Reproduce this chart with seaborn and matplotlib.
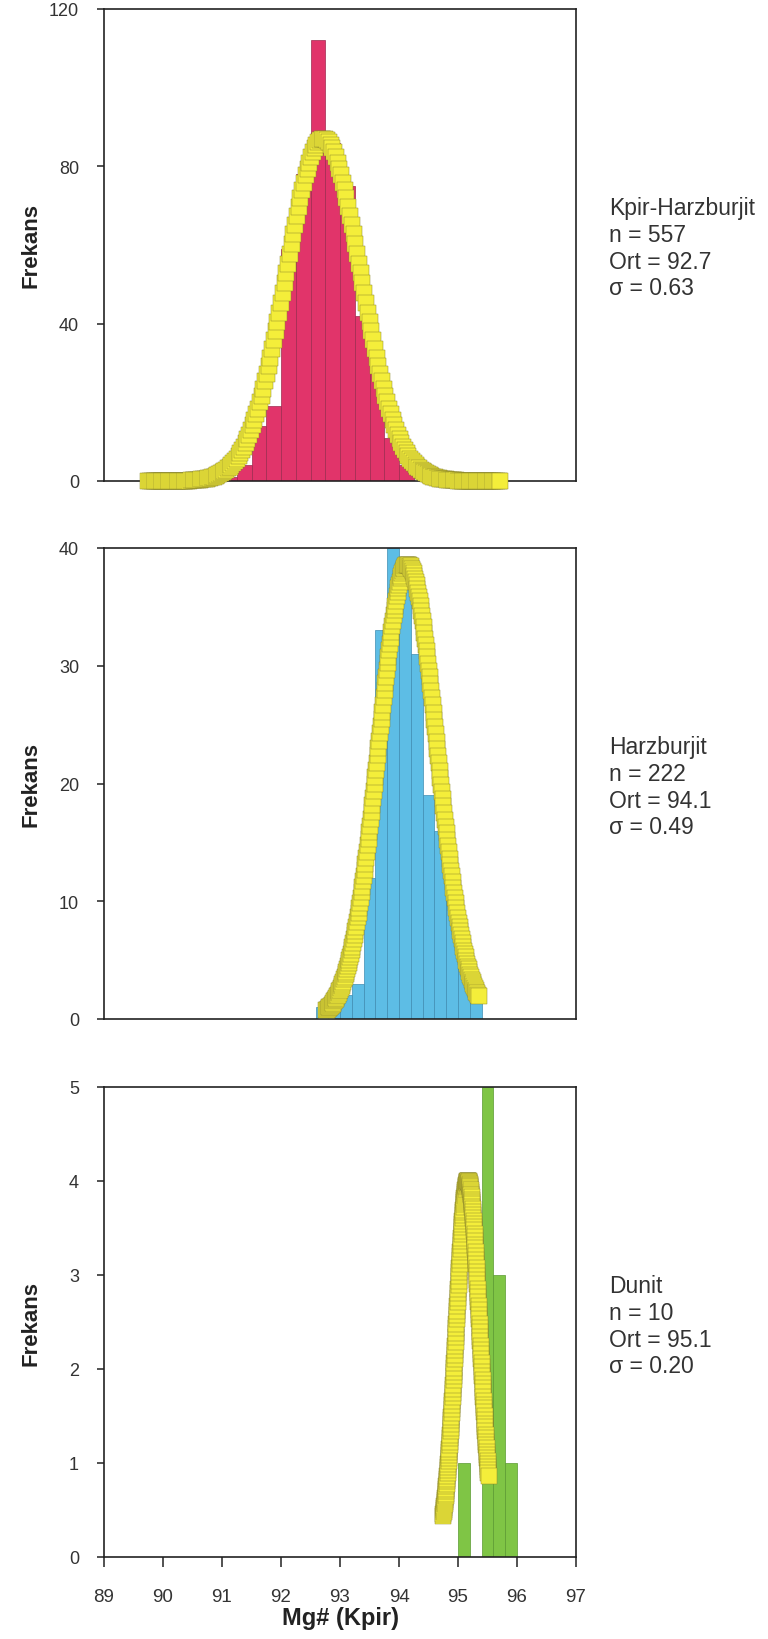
import numpy as np
import pandas as pd
import matplotlib
matplotlib.use("Agg")
import matplotlib.pyplot as plt
import seaborn as sns

sns.set_theme(style="white")
plt.rcParams['font.family'] = ['Liberation Sans', 'DejaVu Sans']

# ---------------- data ----------------
# Panel 1: Kpir-Harzburjit (bin width 0.25)
kh_edges = [90.0, 90.25, 90.5, 90.75, 91.0, 91.25, 91.5, 91.75, 92.0, 92.25,
            92.5, 92.75, 93.0, 93.25, 93.5, 93.75, 94.0, 94.25]
kh_counts = [1, 0, 0, 0, 1, 4, 14, 19, 59, 78, 112, 86, 75, 42, 28, 11, 4]
# Panel 2: Harzburjit (bin width 0.2)
hz_edges = [92.6, 92.8, 93.0, 93.2, 93.4, 93.6, 93.8, 94.0, 94.2, 94.4,
            94.6, 94.8, 95.0, 95.2, 95.4]
hz_counts = [1, 2, 2, 3, 12, 33, 40, 38, 31, 19, 16, 13, 6, 3]
# Panel 3: Dunit (bin width 0.2)
du_edges = [95.0, 95.2, 95.4, 95.6, 95.8, 96.0]
du_counts = [1, 0, 5, 3, 1]

names = ["Kpir-Harzburjit", "Harzburjit", "Dunit"]
n_vals = [557, 222, 10]
ort_vals = ["92.7", "94.1", "95.1"]
sig_vals = ["0.63", "0.49", "0.20"]

# fitted normal curves (centre, sigma, peak height, x-start, x-end)
curve_center = [92.72, 94.15, 95.17]
curve_sigma = [0.63, 0.49, 0.20]
curve_peak = [87.0, 38.6, 4.0]
curve_x0 = [89.75, 92.77, 94.75]
curve_x1 = [95.72, 95.35, 95.52]

y_max = [120, 40, 5]
y_ticks = [[0, 40, 80, 120], [0, 10, 20, 30, 40], [0, 1, 2, 3, 4, 5]]
x_ticks = [89, 90, 91, 92, 93, 94, 95, 96, 97]

bar_colors = ["#e1346a", "#5dbde5", "#7fc545"]
bar_edges = ["#9e2a4f", "#3f8db2", "#5a9a30"]

edges_all = [kh_edges, hz_edges, du_edges]
counts_all = [kh_counts, hz_counts, du_counts]

# ---------------- figure ----------------
W, H = 768, 1640
fig = plt.figure(figsize=(W / 100, H / 100), dpi=100)

ax_left, ax_w = 104 / W, 472 / W
ax_tops = [10, 549, 1088]
ax_bots = [482, 1020, 1558]

axes = []
for i in range(3):
    b = 1 - ax_bots[i] / H
    h = (ax_bots[i] - ax_tops[i]) / H
    ax = fig.add_axes([ax_left, b, ax_w, h])
    axes.append(ax)

    e = [float(v) for v in edges_all[i]]
    c = np.array(counts_all[i], dtype=float)
    centers = (np.array(e[:-1]) + np.array(e[1:])) / 2
    df = pd.DataFrame({"x": centers, "w": c})
    sns.histplot(data=df, x="x", weights="w", bins=e, stat="count",
                 color=bar_colors[i], edgecolor=bar_edges[i], linewidth=0.5,
                 alpha=1.0, ax=ax, zorder=2)

    xs = np.linspace(curve_x0[i], curve_x1[i], 200)
    ys = curve_peak[i] * np.exp(-0.5 * ((xs - curve_center[i]) / curve_sigma[i]) ** 2)
    cdf = pd.DataFrame({"x": xs, "y": ys})
    sns.scatterplot(data=cdf, x="x", y="y", marker="s", s=120,
                    color="#f4ee3a", edgecolor="#8f8a2a", linewidth=0.35,
                    ax=ax, zorder=3, clip_on=False)

    ax.set_xlim(89, 97)
    ax.set_ylim(0, y_max[i])
    ax.set_yticks(y_ticks[i])
    ax.set_yticklabels([str(t) for t in y_ticks[i]], fontsize=13, color="#333333")
    ax.set_xlabel("")
    ax.set_ylabel("")
    for sp in ax.spines.values():
        sp.set_visible(True)
        sp.set_color("#222222")
        sp.set_linewidth(1.2)
    ax.tick_params(axis="y", direction="out", length=5, width=1.1, color="#222222",
                   pad=13, left=True)
    if i < 2:
        ax.set_xticks([])
    else:
        ax.set_xticks(x_ticks)
        ax.set_xticklabels([str(t) for t in x_ticks], fontsize=13.5, color="#333333")
        ax.tick_params(axis="x", direction="out", length=7, width=1.1,
                       color="#222222", pad=15, bottom=True)
        ax.set_xlabel("Mg# (Kpir)", fontsize=17, fontweight="bold", color="#222222",
                      labelpad=1)

    # y label, centred on the panel
    yfig = 1 - (ax_bots[i] + ax_tops[i]) / 2 / H
    fig.text(31 / W, yfig, "Frekans", rotation=90, ha="center", va="center",
             fontsize=16, fontweight="bold", color="#222222")

    # statistics text on the right
    base0 = ax_tops[i] + 205
    lines = [names[i], f"n = {n_vals[i]}", f"Ort = {ort_vals[i]}", f"σ = {sig_vals[i]}"]
    for k, t in enumerate(lines):
        fig.text(609 / W, 1 - (base0 + 26.8 * k) / H, t, ha="left", va="baseline",
                 fontsize=16.5, color="#333333")

fig.savefig("out.png", dpi=100)
